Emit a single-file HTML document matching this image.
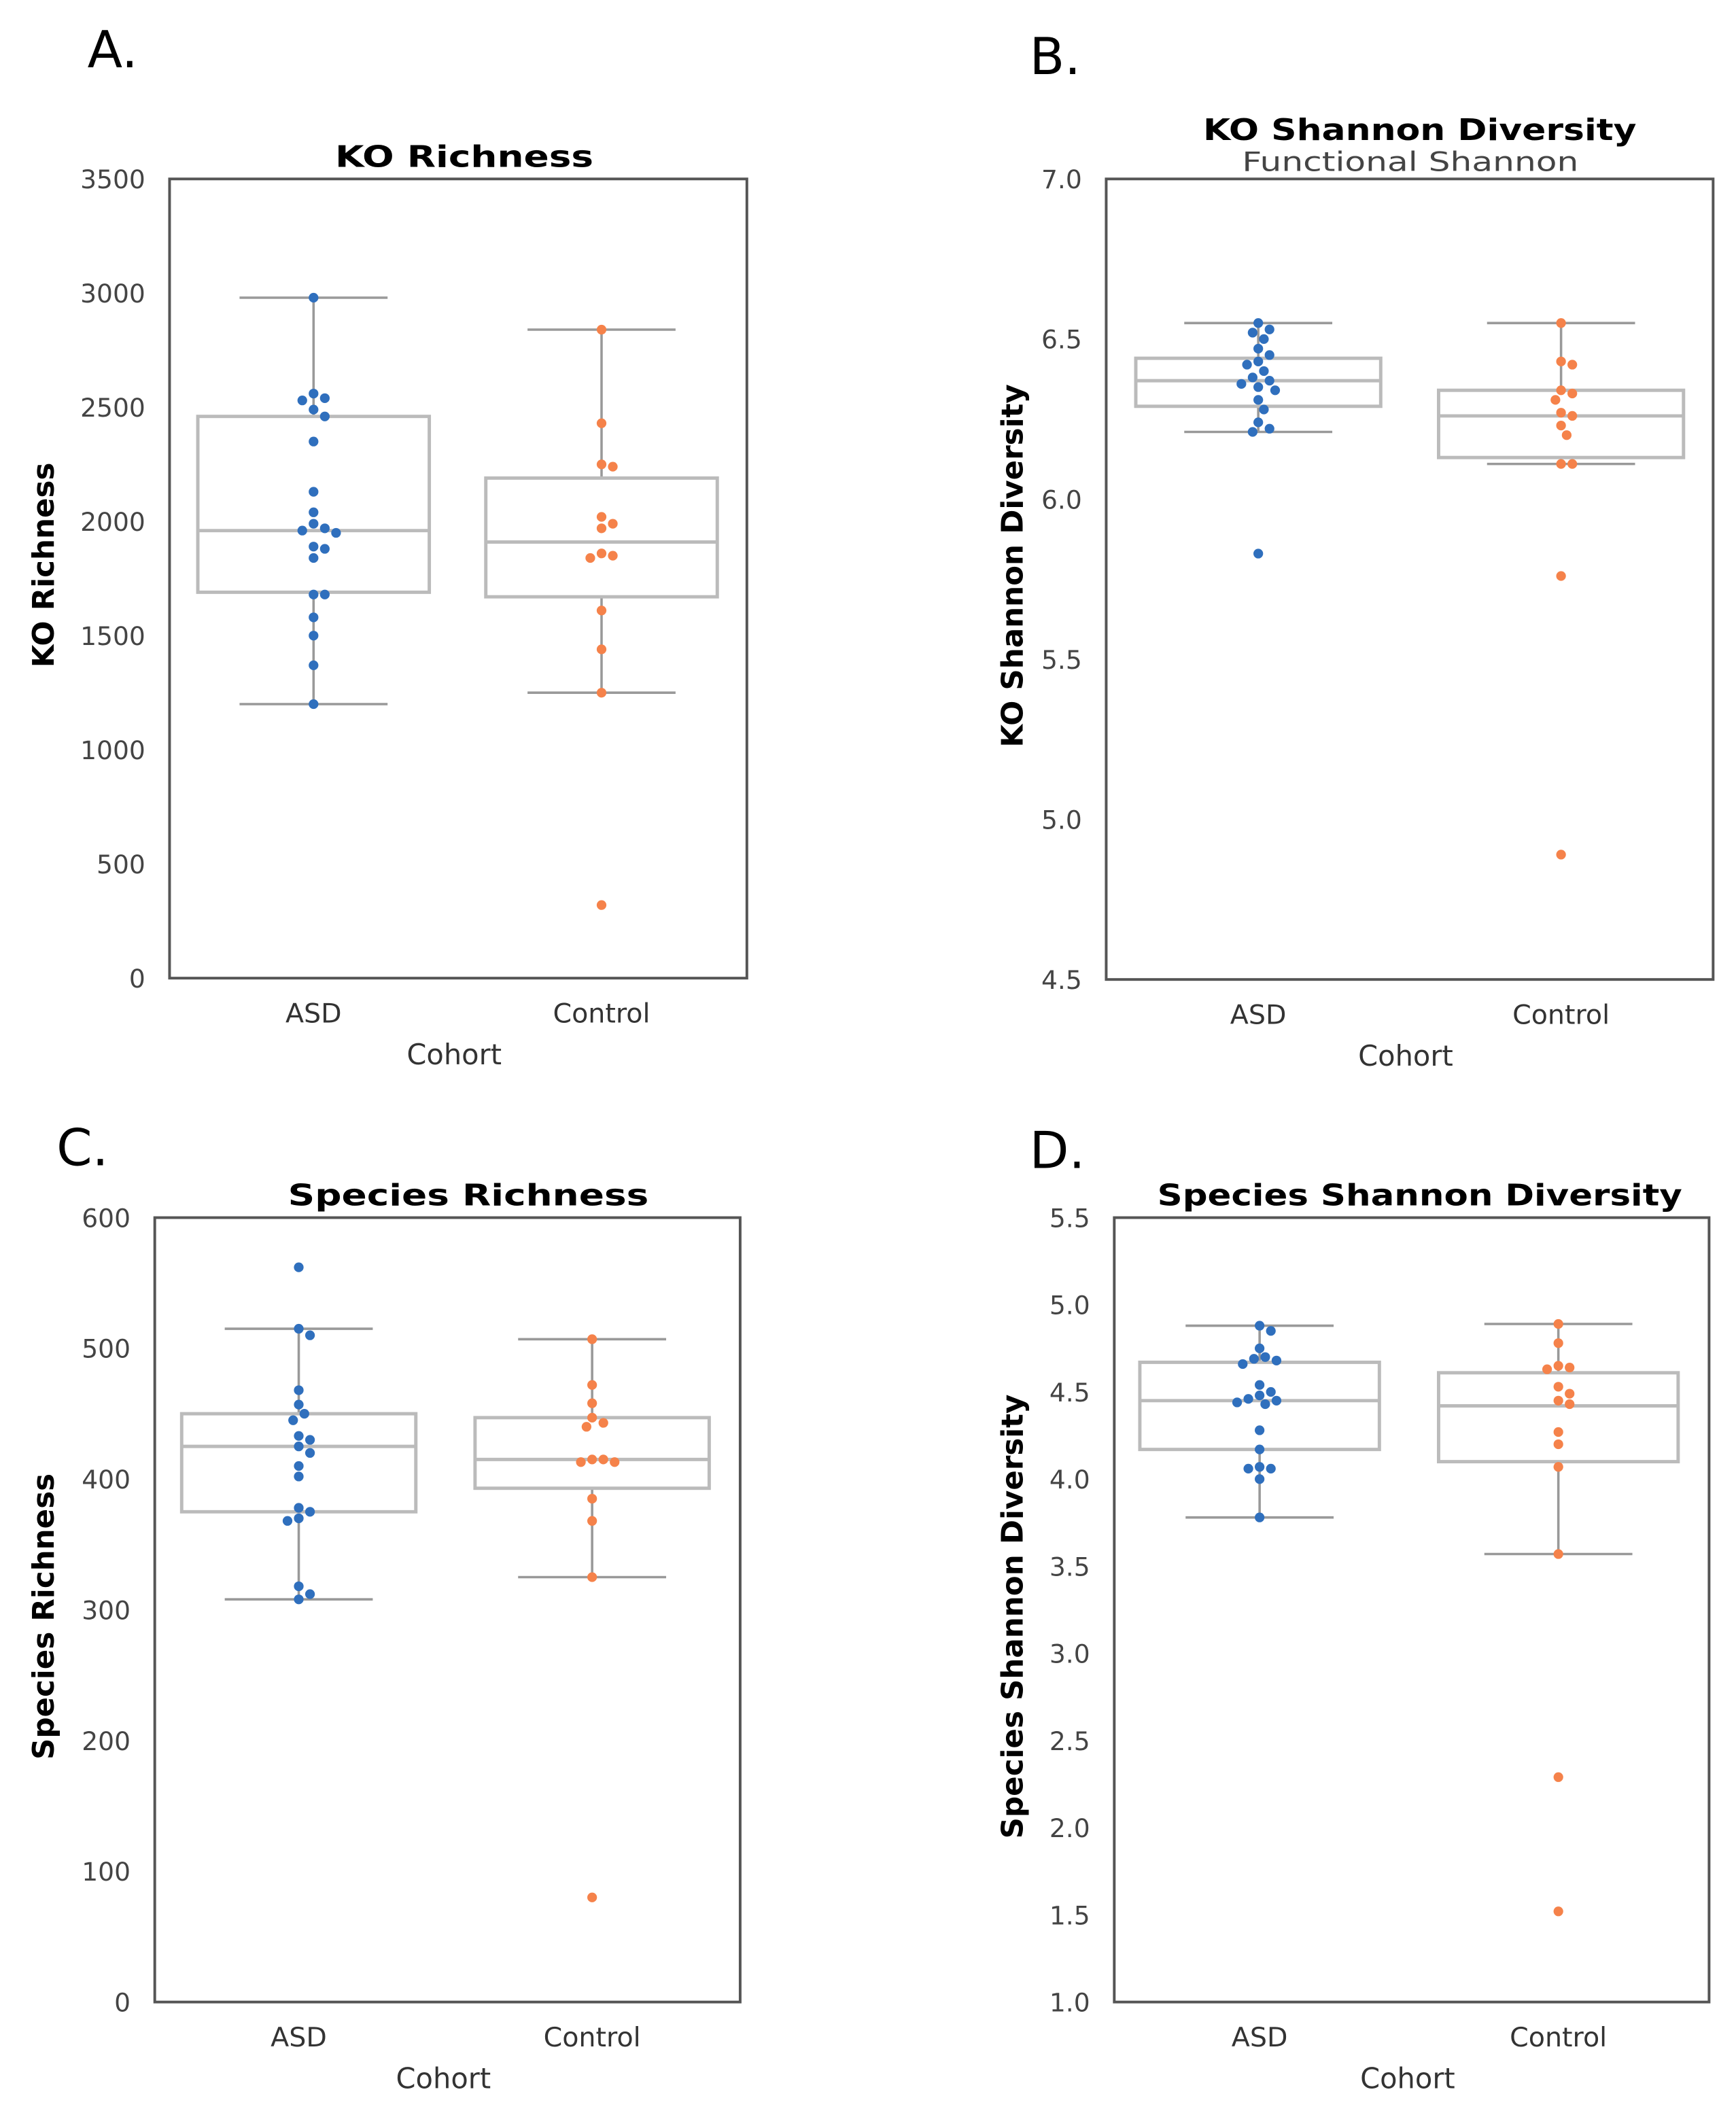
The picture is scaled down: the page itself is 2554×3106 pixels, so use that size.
<!DOCTYPE html>
<html><head><meta charset="utf-8"><style>
html,body{margin:0;padding:0;background:#fff}
svg{display:block}
text{font-family:"DejaVu Sans","Liberation Sans",sans-serif}
</style></head><body>
<svg id="fig" width="2554" height="3106" viewBox="0 0 1290 1569" preserveAspectRatio="none" xmlns="http://www.w3.org/2000/svg"></svg>
<script>
// Panel A data
const aTicks=[0,500,1000,1500,2000,2500,3000,3500];
const aAsd=[2980,2560,2540,2530,2490,2460,2350,2130,2040,1990,1970,1960,1950,1890,1880,1840,1680,1680,1580,1500,1370,1200];
const aCtl=[2840,2430,2250,2240,2020,1990,1970,1860,1850,1840,1610,1440,1250,320];
const aAsdBox=[1200,1690,1960,2460,2980];
const aCtlBox=[1250,1670,1910,2190,2840];
// Panel B data
const bTicks=[4.5,5.0,5.5,6.0,6.5,7.0];
const bAsd=[6.55,6.53,6.52,6.50,6.47,6.45,6.43,6.42,6.40,6.38,6.37,6.36,6.35,6.34,6.31,6.28,6.24,6.22,6.21,5.83];
const bCtl=[6.55,6.43,6.42,6.34,6.33,6.31,6.27,6.26,6.23,6.20,6.11,6.11,5.76,4.89];
const bAsdBox=[6.21,6.29,6.37,6.44,6.55];
const bCtlBox=[6.11,6.13,6.26,6.34,6.55];
// Panel C data
const cTicks=[0,100,200,300,400,500,600];
const cAsd=[562,515,510,468,457,450,445,433,430,425,420,410,402,378,375,370,368,318,312,308];
const cCtl=[507,472,458,447,443,440,415,415,413,413,385,368,325,80];
const cAsdBox=[308,375,425,450,515];
const cCtlBox=[325,393,415,447,507];
// Panel D data
const dTicks=[1.0,1.5,2.0,2.5,3.0,3.5,4.0,4.5,5.0,5.5];
const dAsd=[4.88,4.85,4.75,4.70,4.69,4.68,4.66,4.54,4.50,4.48,4.46,4.45,4.44,4.43,4.28,4.17,4.07,4.06,4.06,4.00,3.78];
const dCtl=[4.89,4.78,4.65,4.64,4.63,4.53,4.49,4.45,4.43,4.27,4.20,4.07,3.57,2.29,1.52];
const dAsdBox=[3.78,4.17,4.45,4.67,4.88];
const dCtlBox=[3.57,4.10,4.42,4.61,4.89];
const categories=["ASD","Control"];

const NS="http://www.w3.org/2000/svg";
const svg=document.getElementById('fig');
function mk(tag,attrs,parent){const e=document.createElementNS(NS,tag);for(const k in attrs)e.setAttribute(k,attrs[k]);(parent||svg).appendChild(e);return e;}
function txt(s,attrs,parent){const e=mk('text',attrs,parent);e.textContent=s;return e;}

function panel(o){
  const g=mk('g',{});
  
  
  const y=v=>o.y1+(o.y0-o.y1)*(v-o.vmin)/(o.vmax-o.vmin);
  const l=txt(o.letter,{x:o.lx,y:o.ly,'font-size':38,fill:'#000'},g);
  
  const t=txt(o.title,{x:o.tx,y:o.ty,'font-size':22,'font-weight':'bold','text-anchor':'middle',fill:'#000',textLength:o.tl,lengthAdjust:'spacingAndGlyphs'},g);
  
  if(o.sub){const s=txt(o.sub,{x:o.tx-7,y:o.ty+23,'font-size':20,'text-anchor':'middle',fill:'#444',textLength:250,lengthAdjust:'spacingAndGlyphs'},g);
    }
  o.ticks.forEach(v=>{const e=txt(o.fmt(v),{x:o.x0-18,y:y(v)+7,'font-size':19,'text-anchor':'end',fill:'#444'},g);
    });
  const yl=txt(o.ylab,{x:0,y:0,'font-size':22,'font-weight':'bold','text-anchor':'middle',fill:'#000',transform:`translate(${o.ylx},${(o.y0+o.y1)/2+o.yloff}) rotate(-90)`},g);
  
  const groups=[{c:o.cx[0],pts:o.asd,box:o.asdBox,col:'#2f6fbd',hw:o.bw},{c:o.cx[1],pts:o.ctl,box:o.ctlBox,col:'#f5824a',hw:o.bw}];
  groups.forEach((gr,i)=>{
    const b=gr.box,cx=gr.c;
    const bg=mk('g',{},g);
    
    mk('line',{x1:cx,x2:cx,y1:y(b[0]),y2:y(b[1]),stroke:'#999','stroke-width':1.8},bg);
    mk('line',{x1:cx,x2:cx,y1:y(b[3]),y2:y(b[4]),stroke:'#999','stroke-width':1.8},bg);
    mk('line',{x1:cx-55,x2:cx+55,y1:y(b[0]),y2:y(b[0]),stroke:'#999','stroke-width':1.8},bg);
    mk('line',{x1:cx-55,x2:cx+55,y1:y(b[4]),y2:y(b[4]),stroke:'#999','stroke-width':1.8},bg);
    mk('rect',{x:cx-gr.hw,y:y(b[3]),width:2*gr.hw,height:y(b[1])-y(b[3]),fill:'none',stroke:'#bbb','stroke-width':2.5},bg);
    mk('line',{x1:cx-gr.hw,x2:cx+gr.hw,y1:y(b[2]),y2:y(b[2]),stroke:'#bbb','stroke-width':2.5},bg);
    const placed=[];const r=3.6,d=2*r+0.4;
    gr.pts.slice().sort((a,b)=>b-a).forEach(v=>{
      const py=y(v);let off=0;
      for(let k=0;k<40;k++){
        const cand=k===0?0:(k%2?1:-1)*Math.ceil(k/2)*d*0.55;
        if(placed.every(p=>Math.hypot(p[0]-(cx+cand),p[1]-py)>=d)){off=cand;break;}
      }
      placed.push([cx+off,py]);
      const c=mk('circle',{cx:cx+off,cy:py,r:r,fill:gr.col},g);
      
      
    });
    const xl=txt(categories[i],{x:cx,y:o.y1+33,'font-size':20,'text-anchor':'middle',fill:'#333'},g);
    
  });
  const fr=mk('rect',{x:o.x0,y:o.y0,width:o.x1-o.x0,height:o.y1-o.y0,fill:'none',stroke:'#555','stroke-width':2},g);
  
  const xt=txt('Cohort',{x:(o.x0+o.x1)/2-3,y:o.y1+64,'font-size':21,'text-anchor':'middle',fill:'#333'},g);
  
}
const i0=v=>String(v), f1=v=>v.toFixed(1);
panel({id:'ko-richness',letter:'A.',lx:65,ly:50,title:'KO Richness',tl:192,tx:345,ty:124,x0:126,x1:555,y0:133,y1:727,vmin:0,vmax:3500,ticks:aTicks,fmt:i0,ylab:'KO Richness',ylx:40,yloff:-10,cx:[233,447],bw:86,asd:aAsd,ctl:aCtl,asdBox:aAsdBox,ctlBox:aCtlBox});
panel({id:'ko-shannon',letter:'B.',lx:765,ly:55,title:'KO Shannon Diversity',sub:'Functional Shannon',tl:322,tx:1055,ty:104,x0:822,x1:1273,y0:133,y1:728,vmin:4.5,vmax:7.0,ticks:bTicks,fmt:f1,ylab:'KO Shannon Diversity',ylx:760,yloff:-10,cx:[935,1160],bw:91,asd:bAsd,ctl:bCtl,asdBox:bAsdBox,ctlBox:bCtlBox});
panel({id:'species-richness',letter:'C.',lx:42,ly:866,title:'Species  Richness',tl:268,tx:348,ty:896,x0:115,x1:550,y0:905,y1:1488,vmin:0,vmax:600,ticks:cTicks,fmt:i0,ylab:'Species  Richness',ylx:40,yloff:5,cx:[222,440],bw:87,asd:cAsd,ctl:cCtl,asdBox:cAsdBox,ctlBox:cCtlBox});
panel({id:'species-shannon',letter:'D.',lx:765,ly:868,title:'Species Shannon Diversity',tl:390,tx:1055,ty:896,x0:828,x1:1270,y0:905,y1:1488,vmin:1.0,vmax:5.5,ticks:dTicks,fmt:f1,ylab:'Species  Shannon Diversity',ylx:760,yloff:5,cx:[936,1158],bw:89,asd:dAsd,ctl:dCtl,asdBox:dAsdBox,ctlBox:dCtlBox});
</script>
</body></html>
